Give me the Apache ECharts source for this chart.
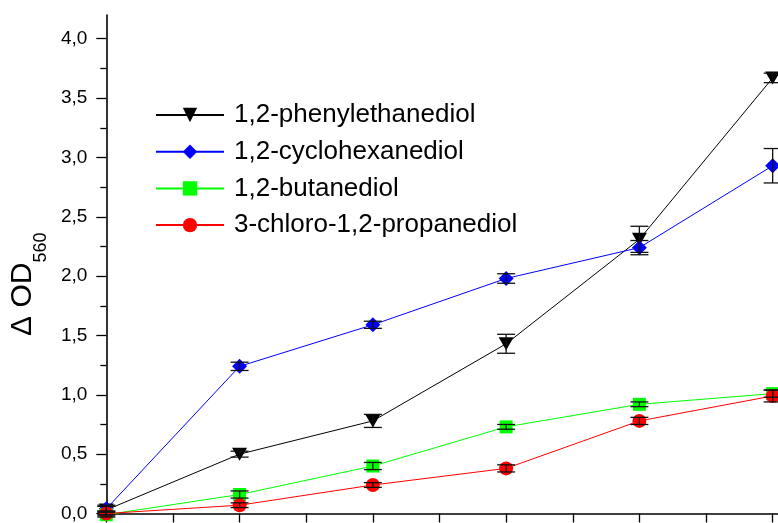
<!DOCTYPE html>
<html>
<head>
<meta charset="utf-8">
<script src="https://cdn.jsdelivr.net/npm/echarts@6/dist/echarts.min.js"></script>
<style>
  html, body { margin: 0; padding: 0; background: #fff; }
  #chart { width: 778px; height: 523px; }
</style>
</head>
<body>
<div id="chart"></div>
<script>
// x positions of the measurements (axis labels are cut off in the picture)
let xValues = [0, 1, 2, 3, 4, 5];
let names = ['1,2-phenylethanediol', '1,2-cyclohexanediol', '1,2-butanediol', '3-chloro-1,2-propanediol'];
let phenyl = [0.03, 0.50, 0.78, 1.43, 2.31, 3.67];
let phenylErr = [0.04, 0.025, 0.055, 0.08, 0.11, 0.04];
let cyclo = [0.04, 1.24, 1.59, 1.98, 2.24, 2.93];
let cycloErr = [0.02, 0.035, 0.03, 0.04, 0.06, 0.145];
let butane = [-0.01, 0.16, 0.40, 0.73, 0.92, 1.01];
let butaneErr = [0.02, 0.03, 0.03, 0.02, 0.02, 0.03];
let chloro = [0.0, 0.07, 0.24, 0.38, 0.78, 0.99];
let chloroErr = [0.02, 0.02, 0.02, 0.03, 0.03, 0.05];
// tick values
let yMajor = [0, 0.5, 1.0, 1.5, 2.0, 2.5, 3.0, 3.5, 4.0];
let yMinor = [0.25, 0.75, 1.25, 1.75, 2.25, 2.75, 3.25, 3.75];
let xTicks = [0, 0.5, 1, 1.5, 2, 2.5, 3, 3.5, 4, 4.5, 5];

const chart = echarts.init(document.getElementById('chart'));

function pairs(ys) {
  return xValues.map((x, i) => [x, ys[i]]);
}
function errPairs(ys, es) {
  return xValues.map((x, i) => [x, ys[i], es[i]]);
}

function lineSeries(name, ys, color, symbol, size, rotate) {
  return {
    name: name,
    type: 'line',
    data: pairs(ys),
    symbol: symbol,
    symbolSize: size,
    symbolRotate: rotate || 0,
    clip: false,
    z: 3,
    lineStyle: { color: color, width: 1 },
    itemStyle: { color: color, opacity: 1 },
    emphasis: { disabled: true }
  };
}

function errSeries(ys, es) {
  return {
    type: 'custom',
    data: errPairs(ys, es),
    clip: false,
    z: 5,
    silent: true,
    renderItem: function (params, api) {
      const x = api.value(0), y = api.value(1), e = api.value(2);
      const top = api.coord([x, y + e]);
      const bot = api.coord([x, y - e]);
      const hw = 9;
      const st = { stroke: '#111', lineWidth: 1.3 };
      return {
        type: 'group',
        children: [
          { type: 'line', shape: { x1: top[0], y1: top[1], x2: bot[0], y2: bot[1] }, style: st },
          { type: 'line', shape: { x1: top[0] - hw, y1: top[1], x2: top[0] + hw, y2: top[1] }, style: st },
          { type: 'line', shape: { x1: bot[0] - hw, y1: bot[1], x2: bot[0] + hw, y2: bot[1] }, style: st }
        ]
      };
    }
  };
}

const option = {
  animation: false,
  backgroundColor: '#fff',
  textStyle: { fontFamily: 'Liberation Sans, Arial, sans-serif' },
  grid: { left: 106, top: 15, bottom: 6, right: 0, containLabel: false },
  legend: {
    data: names,
    orient: 'vertical',
    left: 155,
    top: 102,
    padding: 0,
    itemWidth: 68,
    itemHeight: 18,
    itemGap: 10.7,
    textStyle: { fontSize: 26, color: '#000', padding: [0, 0, 0, 5], lineHeight: 26 },
    selectedMode: false
  },
  xAxis: {
    type: 'value',
    min: 0,
    max: 5.04,
    axisLine: { show: true, onZero: false, lineStyle: { color: '#000', width: 1.6 } },
    axisTick: { show: true, inside: false, length: 9, customValues: xTicks, lineStyle: { color: '#000', width: 1.3 } },
    axisLabel: { show: false },
    splitLine: { show: false }
  },
  yAxis: [
    {
      type: 'value',
      min: 0,
      max: 4.2,
      name: '{a|Δ OD}{b|560}',
      nameLocation: 'middle',
      nameGap: 56,
      nameTextStyle: {
        padding: [0, 40, 0, 0],
        rich: {
          a: { fontSize: 30, color: '#000', lineHeight: 54, verticalAlign: 'middle', fontFamily: 'Liberation Sans' },
          b: { fontSize: 18, color: '#000', lineHeight: 54, verticalAlign: 'bottom', fontFamily: 'Liberation Sans' }
        }
      },
      axisLine: { show: true, onZero: false, lineStyle: { color: '#000', width: 1.6 } },
      axisTick: { show: true, inside: false, length: 10, customValues: yMajor, lineStyle: { color: '#000', width: 1.3 } },
      axisLabel: {
        show: true,
        customValues: yMajor,
        margin: 19,
        fontSize: 19,
        color: '#000',
        formatter: function (v) { return v.toFixed(1).replace('.', ','); }
      },
      splitLine: { show: false }
    },
    {
      type: 'value',
      min: 0,
      max: 4.2,
      position: 'left',
      axisLine: { show: false },
      axisTick: { show: true, inside: false, length: 6, customValues: yMinor, lineStyle: { color: '#000', width: 1.3 } },
      axisLabel: { show: false },
      splitLine: { show: false }
    }
  ],
  series: [
    lineSeries(names[0], phenyl, '#000000', 'triangle', [15, 13], 180),
    lineSeries(names[1], cyclo, '#0000ff', 'diamond', [15, 15]),
    lineSeries(names[2], butane, '#00ff00', 'rect', [13, 13]),
    lineSeries(names[3], chloro, '#ff0000', 'circle', 14),
    errSeries(phenyl, phenylErr),
    errSeries(cyclo, cycloErr),
    errSeries(butane, butaneErr),
    errSeries(chloro, chloroErr)
  ]
};

chart.setOption(option);
</script>
</body>
</html>
